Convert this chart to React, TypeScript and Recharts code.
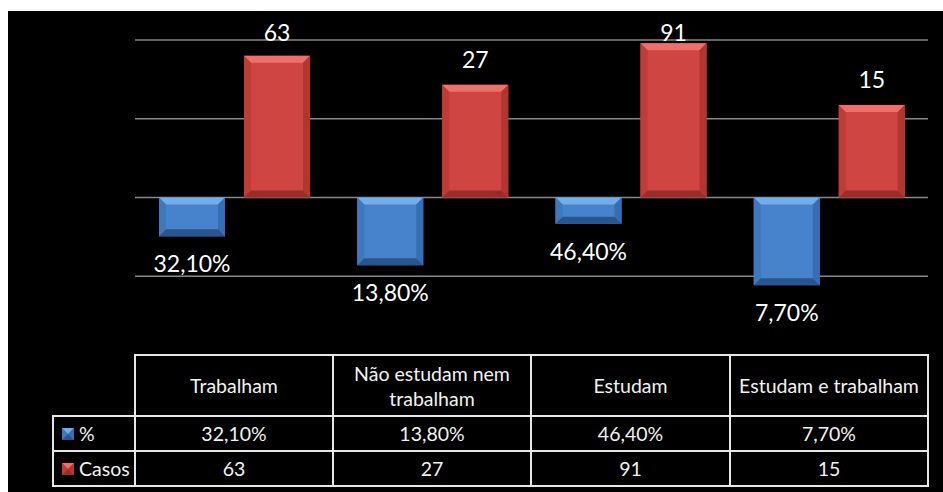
import { Bar, BarChart, CartesianGrid, LabelList, XAxis, YAxis } from 'recharts';

const categories = ['Trabalham', 'Não estudam nem trabalham', 'Estudam', 'Estudam e trabalham'];
const percentValues = [0.321, 0.138, 0.464, 0.077];
const percentLabels = ['32,10%', '13,80%', '46,40%', '7,70%'];
const casosValues = [63, 27, 91, 15];
const gridTicks = [0.01, 0.1, 1, 10, 100];

const FONT = 'Lato, "Open Sans", sans-serif';

const PALETTE = {
  pct: { face: '#4683CC', top: '#74AEEA', left: '#3E78BF', right: '#376EB1', bottom: '#2A568F' },
  casos: { face: '#CF4541', top: '#EE706A', left: '#C13B37', right: '#B23532', bottom: '#9A2C29' },
};

type Tone = typeof PALETTE.pct;

// Excel-style bevel: a light top strip, darker sides and bottom edge.
function BevelRect({ x, y, width, height, tone }: { x: number; y: number; width: number; height: number; tone: Tone }) {
  const top = Math.min(y, y + height);
  const h = Math.abs(height);
  const b = Math.min(7, h / 2, width / 2);
  const r = x + width;
  const btm = top + h;
  return (
    <g>
      <rect x={x} y={top} width={width} height={h} fill={tone.face} />
      <polygon points={`${x},${top} ${r},${top} ${r - b},${top + b} ${x + b},${top + b}`} fill={tone.top} />
      <polygon points={`${x},${top} ${x + b},${top + b} ${x + b},${btm - b} ${x},${btm}`} fill={tone.left} />
      <polygon points={`${r},${top} ${r - b},${top + b} ${r - b},${btm - b} ${r},${btm}`} fill={tone.right} />
      <polygon points={`${x},${btm} ${x + b},${btm - b} ${r - b},${btm - b} ${r},${btm}`} fill={tone.bottom} />
    </g>
  );
}

const rows = categories.map((name, i) => ({
  name,
  pct: [percentValues[i], 1],
  casos: [1, casosValues[i]],
  pctLabel: percentLabels[i],
  casosLabel: String(casosValues[i]),
}));

function geom(props: any) {
  const vb = props.viewBox ?? props;
  const top = Math.min(vb.y, vb.y + vb.height);
  return { x: vb.x, w: vb.width, top, bottom: top + Math.abs(vb.height) };
}

function CasosLabel(props: any) {
  const g = geom(props);
  const baseline = Math.max(g.top - 17, 41);
  return (
    <text x={g.x + g.w / 2} y={baseline} textAnchor="middle" fill="#ffffff" fontSize={23} fontFamily={FONT}>
      {props.value}
    </text>
  );
}

function PctLabel(props: any) {
  const g = geom(props);
  return (
    <text x={g.x + g.w / 2} y={g.bottom + 36} textAnchor="middle" fill="#ffffff" fontSize={23} fontFamily={FONT}>
      {props.value}
    </text>
  );
}

function LegendKey({ tone }: { tone: Tone }) {
  return (
    <svg width={12} height={12} style={{ display: 'block' }}>
      <BevelRect x={0} y={0} width={12} height={12} tone={tone} />
    </svg>
  );
}

const LINE = '2px solid #e6e6e6';
const colEdges = [135, 333, 531, 730, 928];

function DataTable() {
  const cell = (left: number, top: number, width: number, height: number, content: React.ReactNode, key: string, align = 'center') => (
    <div
      key={key}
      style={{
        position: 'absolute',
        left,
        top,
        width,
        height,
        boxSizing: 'border-box',
        border: LINE,
        marginLeft: -1,
        marginTop: -1,
        display: 'flex',
        alignItems: 'center',
        justifyContent: align,
        textAlign: 'center',
        color: '#f2f2f2',
        fontFamily: FONT,
        fontSize: 19.5,
        lineHeight: '25px',
      }}
    >
      {content}
    </div>
  );
  const out: React.ReactNode[] = [];
  categories.forEach((c, i) => {
    const l = colEdges[i];
    const w = colEdges[i + 1] - l + 2;
    out.push(cell(l, 355, w, 63, <span>{c}</span>, `h${i}`));
    out.push(cell(l, 416, w, 37, percentLabels[i], `p${i}`));
    out.push(cell(l, 451, w, 37, String(casosValues[i]), `c${i}`));
  });
  const keyLabel = (tone: Tone, text: string) => (
    <div style={{ display: 'flex', alignItems: 'center', paddingLeft: 8 }}>
      <LegendKey tone={tone} />
      <span style={{ marginLeft: 5 }}>{text}</span>
    </div>
  );
  out.push(cell(53, 416, 84, 37, keyLabel(PALETTE.pct, '%'), 'lp', 'flex-start'));
  out.push(cell(53, 451, 84, 37, keyLabel(PALETTE.casos, 'Casos'), 'lc', 'flex-start'));
  return <>{out}</>;
}

export default function App() {
  return (
    <div style={{ position: 'absolute', left: 0, top: 0, width: 943, height: 492, overflow: 'hidden' }}>
      <div style={{ position: 'absolute', left: 8, top: 11, width: 935, height: 481, background: '#000000' }} />
      <div style={{ position: 'absolute', left: 0, top: 0 }}>
        <BarChart
          width={943}
          height={492}
          data={rows}
          margin={{ top: 40, right: 15, left: 135, bottom: 137 }}
          barSize={66}
          barGap={19}
        >
          <CartesianGrid vertical={false} stroke="#878787" strokeWidth={1.5} />
          <XAxis dataKey="name" hide />
          <YAxis hide type="number" scale="log" domain={[0.01, 100]} ticks={gridTicks} allowDataOverflow />
          <Bar dataKey="pct" isAnimationActive={false} shape={(p: any) => <BevelRect {...p} tone={PALETTE.pct} />}>
            <LabelList dataKey="pctLabel" content={PctLabel} />
          </Bar>
          <Bar dataKey="casos" isAnimationActive={false} shape={(p: any) => <BevelRect {...p} tone={PALETTE.casos} />}>
            <LabelList dataKey="casosLabel" content={CasosLabel} />
          </Bar>
        </BarChart>
      </div>
      <DataTable />
    </div>
  );
}
